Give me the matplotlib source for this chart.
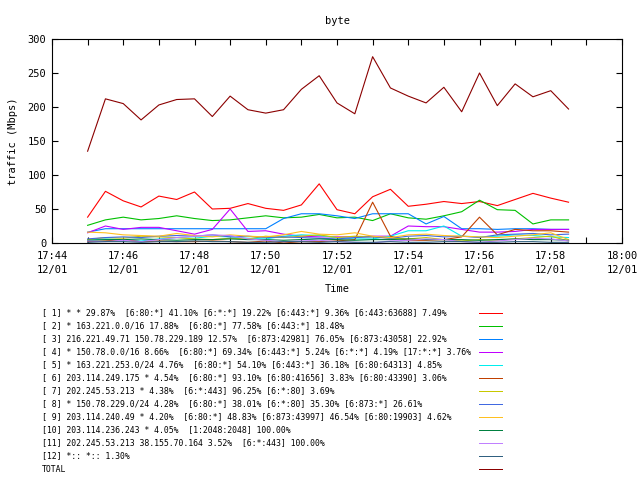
import matplotlib
matplotlib.use("Agg")
import matplotlib.pyplot as plt
import matplotlib.dates as mdates
from matplotlib.lines import Line2D
import pandas as pd

times = pd.date_range("2008-12-01 17:45:00", periods=28, freq="30s")

total = [135, 212, 205, 181, 203, 211, 212, 186, 216, 196, 191, 196, 226, 246,
         206, 190, 274, 228, 216, 206, 229, 193, 250, 202, 234, 215, 224, 197]
s1 = [38, 76, 62, 53, 69, 64, 75, 50, 51, 58, 51, 48, 56, 87,
      49, 43, 68, 79, 54, 57, 61, 58, 61, 55, 64, 73, 66, 60]
s2 = [26, 34, 38, 34, 36, 40, 36, 33, 34, 37, 40, 37, 38, 42,
      37, 38, 33, 43, 37, 35, 40, 46, 63, 49, 48, 28, 34, 34]
s3 = [16, 21, 21, 21, 21, 21, 21, 21, 21, 21, 21, 36, 43, 43,
      40, 36, 43, 43, 43, 28, 39, 21, 21, 20, 21, 21, 20, 20]
s4 = [15, 25, 20, 23, 23, 18, 13, 20, 50, 17, 18, 13, 10, 9,
      9, 9, 10, 10, 25, 24, 24, 20, 16, 16, 17, 20, 20, 20]
s5 = [4, 6, 5, 3, 6, 8, 7, 10, 9, 7, 6, 10, 12, 11,
      8, 6, 6, 10, 18, 18, 25, 10, 9, 10, 12, 11, 9, 8]
s6 = [2, 3, 5, 2, 3, 2, 2, 3, 2, 1, 3, 0, 2, 2,
      3, 5, 60, 10, 4, 4, 5, 9, 38, 12, 20, 18, 18, 16]
s7 = [5, 8, 7, 10, 9, 8, 6, 5, 7, 6, 10, 8, 10, 12,
      8, 10, 9, 7, 6, 8, 5, 3, 5, 4, 6, 8, 10, 3]
s8 = [6, 8, 9, 8, 10, 11, 10, 12, 9, 10, 8, 9, 8, 7,
      6, 8, 9, 7, 10, 11, 9, 10, 8, 12, 13, 14, 12, 13]
s9 = [16, 15, 12, 11, 10, 14, 11, 9, 12, 10, 9, 12, 17, 13,
      12, 15, 10, 8, 12, 13, 11, 10, 9, 8, 10, 12, 15, 5]
s10 = [4, 5, 5, 6, 5, 4, 5, 5, 6, 5, 5, 4, 5, 6,
       5, 4, 5, 5, 6, 5, 5, 5, 4, 5, 6, 5, 5, 4]
s11 = [3, 2, 4, 2, 5, 8, 10, 12, 11, 6, 4, 2, 3, 4,
       2, 1, 0, 3, 4, 6, 5, 2, 1, 3, 5, 7, 6, 3]
s12 = [1, 2, 2, 1, 2, 2, 3, 2, 2, 1, 1, 2, 2, 1,
       2, 1, 1, 2, 1, 1, 2, 2, 1, 1, 2, 2, 1, 1]

labels = [
    "[ 1] * * 29.87%  [6:80:*] 41.10% [6:*:*] 19.22% [6:443:*] 9.36% [6:443:63688] 7.49%",
    "[ 2] * 163.221.0.0/16 17.88%  [6:80:*] 77.58% [6:443:*] 18.48%",
    "[ 3] 216.221.49.71 150.78.229.189 12.57%  [6:873:42981] 76.05% [6:873:43058] 22.92%",
    "[ 4] * 150.78.0.0/16 8.66%  [6:80:*] 69.34% [6:443:*] 5.24% [6:*:*] 4.19% [17:*:*] 3.76%",
    "[ 5] * 163.221.253.0/24 4.76%  [6:80:*] 54.10% [6:443:*] 36.18% [6:80:64313] 4.85%",
    "[ 6] 203.114.249.175 * 4.54%  [6:80:*] 93.10% [6:80:41656] 3.83% [6:80:43390] 3.06%",
    "[ 7] 202.245.53.213 * 4.38%  [6:*:443] 96.25% [6:*:80] 3.69%",
    "[ 8] * 150.78.229.0/24 4.28%  [6:80:*] 38.01% [6:*:80] 35.30% [6:873:*] 26.61%",
    "[ 9] 203.114.240.49 * 4.20%  [6:80:*] 48.83% [6:873:43997] 46.54% [6:80:19903] 4.62%",
    "[10] 203.114.236.243 * 4.05%  [1:2048:2048] 100.00%",
    "[11] 202.245.53.213 38.155.70.164 3.52%  [6:*:443] 100.00%",
    "[12] *:: *:: 1.30%",
    "TOTAL",
]
colors = ["#ff0000", "#00c000", "#0080ff", "#c000ff", "#00eeee", "#c04000",
          "#c8c800", "#4169e1", "#ffc020", "#008040", "#c080ff", "#306080",
          "#8b0000"]
series = [s1, s2, s3, s4, s5, s6, s7, s8, s9, s10, s11, s12, total]

mono = "DejaVu Sans Mono"
fig = plt.figure(figsize=(6.4, 4.8), dpi=100)
ax = fig.add_axes([52 / 640, 237 / 480, 570 / 640, 204 / 480])

for vals, c in zip(series, colors):
    ax.plot(times, vals, color=c, lw=0.8)

ax.set_xlim(pd.Timestamp("2008-12-01 17:44"), pd.Timestamp("2008-12-01 18:00"))
ax.set_ylim(0, 300)
ax.set_yticks(range(0, 301, 50))
ax.xaxis.set_major_locator(mdates.MinuteLocator(byminute=range(0, 60, 2)))
ax.xaxis.set_minor_locator(mdates.MinuteLocator())
ax.xaxis.set_major_formatter(mdates.DateFormatter("%H:%M\n%m/%d"))
ax.tick_params(which="both", direction="in", top=True, right=True,
               labelsize=7.5, width=0.8, length=4)
ax.tick_params(axis="x", pad=6)
ax.tick_params(axis="y", pad=4)
for t in ax.get_xticklabels() + ax.get_yticklabels():
    t.set_family(mono)
    t.set_linespacing(1.5)
for sp in ax.spines.values():
    sp.set_linewidth(0.8)

ax.set_title("byte", family=mono, fontsize=7.5, pad=11)
ax.set_xlabel("Time", family=mono, fontsize=7.5, labelpad=6)
ax.set_ylabel("traffic (Mbps)", family=mono, fontsize=7.5, labelpad=7)

for i, (lab, c) in enumerate(zip(labels, colors)):
    y = 1 - (313 + 13 * i) / 480
    fig.text(42 / 640, y, lab, family=mono, fontsize=5.9, va="center", ha="left")
    fig.add_artist(Line2D([479 / 640, 502 / 640], [y, y], color=c, lw=0.72))

fig.savefig("out.png", dpi=100)
